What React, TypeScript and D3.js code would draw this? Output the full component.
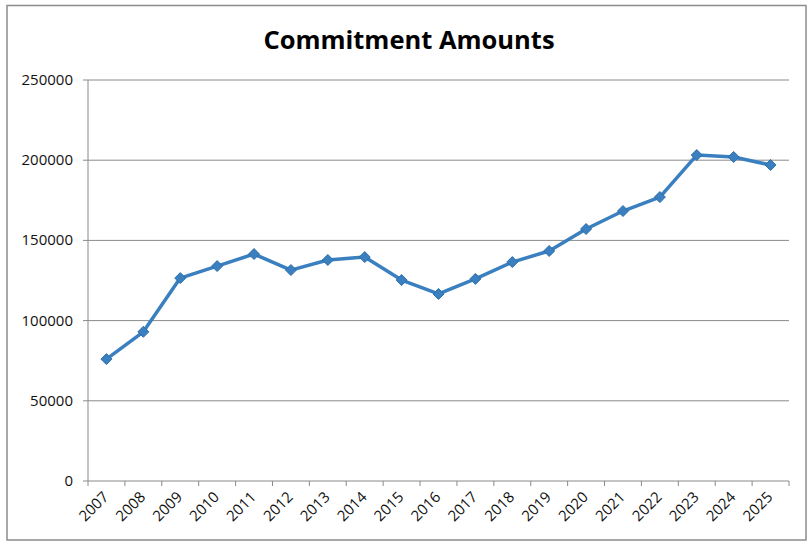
import React from "react";
import * as d3 from "d3";

const years = ["2007","2008","2009","2010","2011","2012","2013","2014","2015","2016","2017","2018","2019","2020","2021","2022","2023","2024","2025"];
const amounts = [76000, 93000, 126500, 134000, 141500, 131500, 137800, 139600, 125300, 116600, 126000, 136500, 143400, 157100, 168300, 177000, 203200, 202000, 197000];
const yTicks = [0, 50000, 100000, 150000, 200000, 250000];
const title = "Commitment Amounts";

const W = 810, H = 542;
const M = { left: 88, right: 789, top: 80, bottom: 481 };
const FONT = "'Open Sans', 'Noto Sans', sans-serif";
const LINE = "#3a7fbf";

export default function App() {
  const x = d3.scaleBand<string>().domain(years).range([M.left, M.right]);
  const y = d3.scaleLinear().domain([0, 250000]).range([M.bottom, M.top]);
  const cx = (d: string) => (x(d) as number) + x.bandwidth() / 2;
  const line = d3.line<number>().x((_, i) => cx(years[i])).y((d) => y(d));
  const tickXs = years.map((d) => x(d) as number).concat([M.right]);
  const r = 5.5;
  const diamond = `M0,${-r}L${r},0L0,${r}L${-r},0Z`;

  return (
    <svg width={W} height={H} style={{ position: "absolute", left: 0, top: 0, background: "#fff" }}>
      <rect x={7} y={5.5} width={799} height={534.5} fill="#fff" stroke="#8c8c8c" strokeWidth={1.5} />
      <text x={409} y={49} textAnchor="middle" fontFamily={FONT} fontWeight={700} fontSize={25.5} fill="#000">{title}</text>
      {yTicks.map((t) => (
        <g key={t}>
          {t > 0 && <line x1={M.left} x2={M.right} y1={y(t)} y2={y(t)} stroke="#8a8a8a" strokeWidth={1} />}
          <line x1={M.left - 5} x2={M.left} y1={y(t)} y2={y(t)} stroke="#8a8a8a" strokeWidth={1} />
          <text x={73} y={y(t) + 5} textAnchor="end" fontFamily={FONT} fontSize={15} fill="#111">{t}</text>
        </g>
      ))}
      <line x1={M.left} x2={M.left} y1={M.top} y2={M.bottom} stroke="#8a8a8a" strokeWidth={1} />
      <line x1={M.left} x2={M.right} y1={M.bottom} y2={M.bottom} stroke="#8a8a8a" strokeWidth={1} />
      {tickXs.map((tx, i) => (
        <line key={i} x1={tx} x2={tx} y1={M.bottom} y2={M.bottom + 5} stroke="#8a8a8a" strokeWidth={1} />
      ))}
      {years.map((d) => (
        <text key={d} transform={`translate(${cx(d) + 3},${M.bottom + 17}) rotate(-45)`} textAnchor="end" fontFamily={FONT} fontSize={15} fill="#111">{d}</text>
      ))}
      <path d={line(amounts) as string} fill="none" stroke={LINE} strokeWidth={3.5} strokeLinejoin="round" />
      {amounts.map((v, i) => (
        <path key={i} d={diamond} transform={`translate(${cx(years[i])},${y(v)})`} fill={LINE} stroke="#2f6fa8" strokeWidth={1} />
      ))}
    </svg>
  );
}
